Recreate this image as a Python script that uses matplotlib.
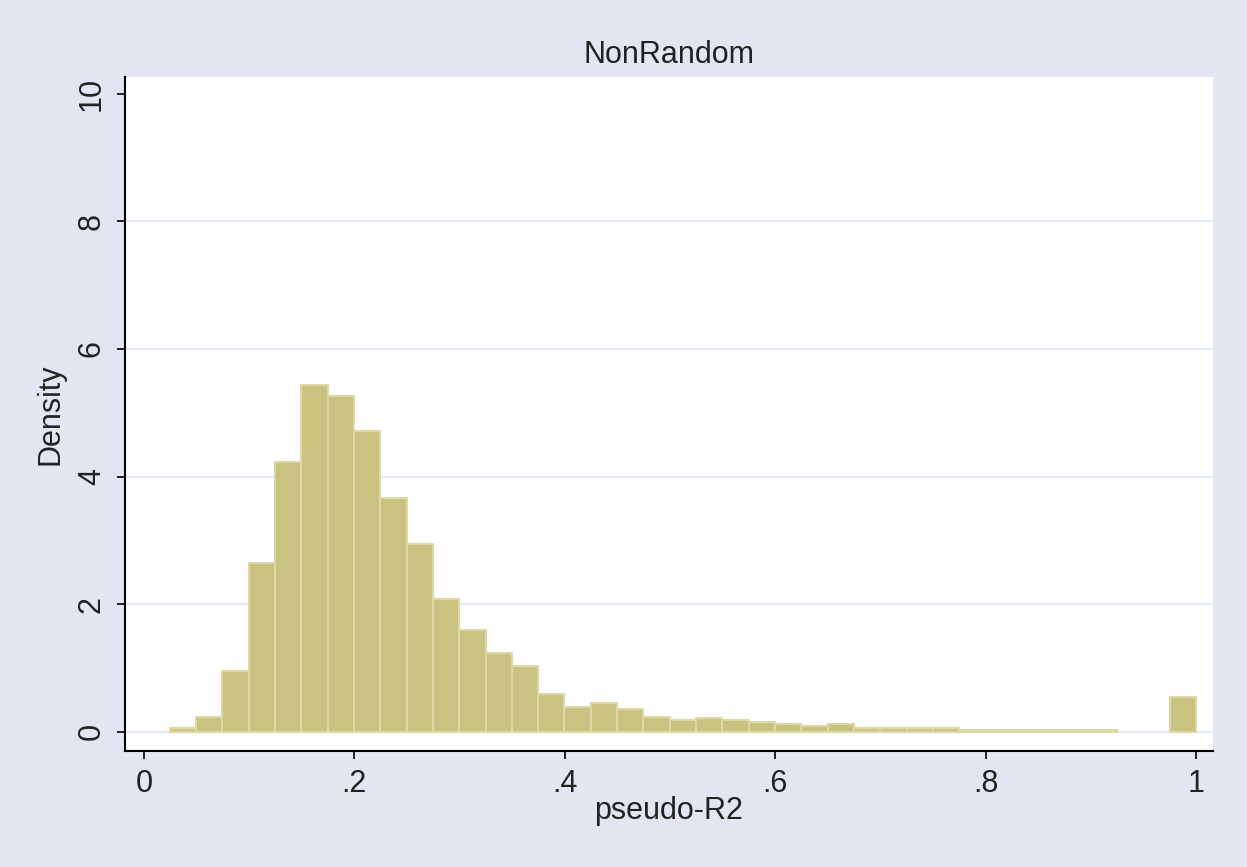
import matplotlib.pyplot as plt
import numpy as np

# histogram of pseudo-R2, bins of width ~0.025 starting near 0.0245
bin_start = 0.0245
bin_end = 1.0
density = [0.056, 0.24, 0.96, 2.65, 4.23, 5.44, 5.26, 4.72, 3.67, 2.95,
           2.08, 1.59, 1.23, 1.03, 0.60, 0.39, 0.45, 0.36, 0.24, 0.18,
           0.21, 0.18, 0.155, 0.124, 0.09, 0.124, 0.066, 0.066, 0.066, 0.066,
           0.035, 0.035, 0.035, 0.035, 0.035, 0.035, 0.0, 0.0, 0.54]
xticks = [0, 0.2, 0.4, 0.6, 0.8, 1.0]
xticklabels = ["0", ".2", ".4", ".6", ".8", "1"]
yticks = [0, 2, 4, 6, 8, 10]

plt.rcParams['font.family'] = ['Liberation Sans', 'DejaVu Sans']

edges = np.linspace(bin_start, bin_end, len(density) + 1)
width = edges[1] - edges[0]
dens = np.array(density)
keep = dens > 0

fig = plt.figure(figsize=(12.47, 8.67), dpi=100, facecolor='#E1E6F0')
ax = fig.add_axes([0.1002, 0.1338, 0.8725, 0.7774])
ax.set_facecolor('white')

for g in [0, 2, 4, 6, 8]:
    ax.axhline(g, color='#E6EAF3', linewidth=1.5, zorder=1)

ax.bar(edges[:-1][keep], dens[keep], width=width, align='edge',
       color='#CAC280', edgecolor='#DDD8A6', linewidth=1.5, zorder=2)

ax.set_xlim(-0.018, 1.016)
ax.set_ylim(-0.3, 10.26)

ax.set_xticks(xticks)
ax.set_xticklabels(xticklabels)
ax.set_yticks(yticks)
ax.set_yticklabels([str(t) for t in yticks], rotation=90, va='center')

ax.tick_params(axis='both', labelsize=22, length=6, width=1.2, color='black',
               labelcolor='#222222', pad=7)

for s in ['top', 'right']:
    ax.spines[s].set_visible(False)
for s in ['left', 'bottom']:
    ax.spines[s].set_linewidth(1.5)
    ax.spines[s].set_color('black')

ax.set_title("NonRandom", fontsize=22, color='#222222', pad=10)
ax.set_xlabel("pseudo-R2", fontsize=22, color='#222222', labelpad=-2)
ax.set_ylabel("Density", fontsize=22, color='#222222', labelpad=8)

fig.savefig("out.png", dpi=100, facecolor=fig.get_facecolor())
